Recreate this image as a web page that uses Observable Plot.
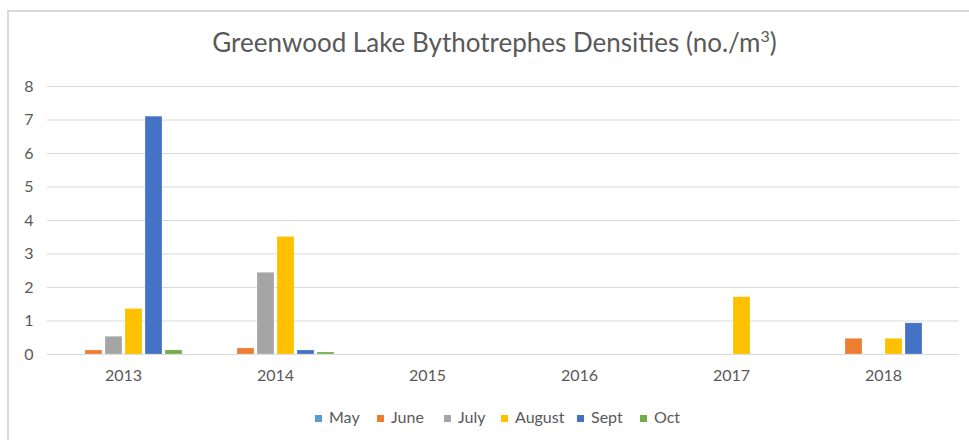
<!DOCTYPE html>
<html>
<head>
<meta charset="utf-8">
<script src="https://cdn.jsdelivr.net/npm/d3@7"></script>
<script src="https://cdn.jsdelivr.net/npm/@observablehq/plot@0.6"></script>
<style>
  body { margin: 0; background: #fff; }
  #wrap { position: relative; width: 969px; height: 440px; overflow: hidden; font-family: Lato, "Open Sans", sans-serif; color: #595959; }
  #frame { position: absolute; left: 7px; top: 10px; width: 980px; height: 440px; border-left: 2px solid #d9d9d9; border-top: 2px solid #d9d9d9; }
  #title { position: absolute; left: 10px; top: 26px; width: 969px; text-align: center; font-size: 26px; }
  #chart { position: absolute; left: 0; top: 70px; }
  #legend { position: absolute; left: 0; top: 407px; width: 969px; font-size: 16px; }
  .li { position: absolute; top: 0; white-space: nowrap; }
  .sw { display: inline-block; width: 7px; height: 7px; margin-right: 7px; vertical-align: 1px; }
</style>
</head>
<body>
<div id="wrap">
  <div id="frame"></div>
  <div id="title">Greenwood Lake Bythotrephes Densities (no./m<sup style="font-size:16px">3</sup>)</div>
  <div id="chart"></div>
  <div id="legend"></div>
</div>
<script>
const years = ["2013", "2014", "2015", "2016", "2017", "2018"];
const months = ["May", "June", "July", "August", "Sept", "Oct"];
const colors = ["#5B9BD5", "#ED7D31", "#A5A5A5", "#FFC000", "#4472C4", "#70AD47"];
const yTicks = [0, 1, 2, 3, 4, 5, 6, 7, 8];

// values per month, one per year (0 = no bar)
const may    = [0,    0,    0, 0, 0,    0];
const june   = [0.12, 0.18, 0, 0, 0,    0.47];
const july   = [0.53, 2.44, 0, 0, 0,    0];
const august = [1.36, 3.51, 0, 0, 1.71, 0.47];
const sept   = [7.10, 0.12, 0, 0, 0,    0.93];
const oct    = [0.12, 0.06, 0, 0, 0,    0];

const series = [may, june, july, august, sept, oct];
const data = [];
months.forEach((m, i) => years.forEach((y, j) => {
  if (series[i][j] > 0) data.push({year: y, month: m, value: series[i][j]});
}));
const grid = years.flatMap(y => yTicks.map(t => ({year: y, tick: t})));

const chart = Plot.plot({
  width: 969,
  height: 330,
  marginTop: 16,
  marginBottom: 46,
  marginLeft: 47,
  marginRight: 10,
  style: {fontFamily: "Lato, 'Open Sans', sans-serif", fontSize: "16px", color: "#595959", background: "transparent"},
  fx: {domain: years, padding: 0, axis: "bottom", tickSize: 0, tickPadding: 15, label: null},
  x: {domain: months, paddingInner: 0.17, paddingOuter: 0.79, axis: null},
  y: {domain: [0, 8], ticks: yTicks, tickSize: 0, tickPadding: 14, label: null, grid: false},
  color: {domain: months, range: colors},
  marks: [
    Plot.ruleY(grid, {fx: "year", y: "tick", stroke: "#d9d9d9", strokeWidth: 1}),
    Plot.barY(data, {fx: "year", x: "month", y: "value", fill: "month", stroke: "#ffffff", strokeOpacity: 0.4, strokeWidth: 0.6})
  ]
});
document.getElementById("chart").appendChild(chart);

// legend
const legendX = [315, 377, 444, 501, 577, 640];
const leg = document.getElementById("legend");
months.forEach((m, i) => {
  const d = document.createElement("div");
  d.className = "li";
  d.style.left = legendX[i] + "px";
  d.innerHTML = `<span class="sw" style="background:${colors[i]}"></span>${m}`;
  leg.appendChild(d);
});
</script>
</body>
</html>
